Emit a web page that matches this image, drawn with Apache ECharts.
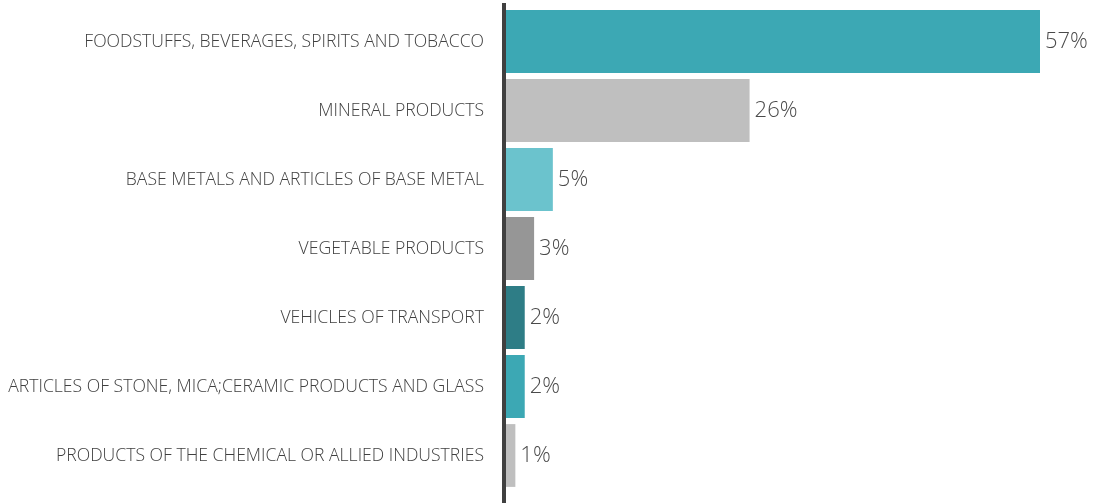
<!DOCTYPE html>
<html>
<head>
<meta charset="utf-8">
<style>html,body{margin:0;padding:0;background:#fff;}#chart{width:1094px;height:503px;}</style>
<script src="https://cdn.jsdelivr.net/npm/echarts@6/dist/echarts.min.js"></script>
</head>
<body>
<div id="chart"></div>
<script>
const categories = [
  "FOODSTUFFS, BEVERAGES, SPIRITS AND TOBACCO",
  "MINERAL PRODUCTS",
  "BASE METALS AND ARTICLES OF BASE METAL",
  "VEGETABLE PRODUCTS",
  "VEHICLES OF TRANSPORT",
  "ARTICLES OF STONE, MICA;CERAMIC PRODUCTS AND GLASS",
  "PRODUCTS OF THE CHEMICAL OR ALLIED INDUSTRIES"
];
const values = [57, 26, 5, 3, 2, 2, 1];
const barColors = ["#3CA8B4", "#BFBFBF", "#6BC3CD", "#969696", "#2E7D86", "#3CA8B4", "#BFBFBF"];

const chart = echarts.init(document.getElementById('chart'));
chart.setOption({
  animation: false,
  grid: { left: 506, right: 54, top: 7, bottom: 13, containLabel: false },
  xAxis: { type: 'value', min: 0, max: 57, show: false },
  yAxis: {
    type: 'category',
    inverse: true,
    data: categories,
    axisLine: { show: false },
    axisTick: { show: false },
    axisLabel: { margin: 22, fontSize: 17.6, color: '#404040', fontFamily: 'Open Sans', fontWeight: 300, padding: [5, 0, 0, 0] }
  },
  graphic: [{ type: 'rect', shape: { x: 502, y: 3, width: 4, height: 500 }, style: { fill: '#404040' }, z: 100 }],
  series: [{
    type: 'bar',
    data: values.map((v, i) => ({ value: v, itemStyle: { color: barColors[i] } })),
    barCategoryGap: '9%',
    label: { show: true, position: 'right', distance: 5, formatter: '{c}%', fontSize: 22, color: '#4a4a4a', fontFamily: 'Open Sans', fontWeight: 300, padding: [3, 0, 0, 0] }
  }]
});
</script>
</body>
</html>
